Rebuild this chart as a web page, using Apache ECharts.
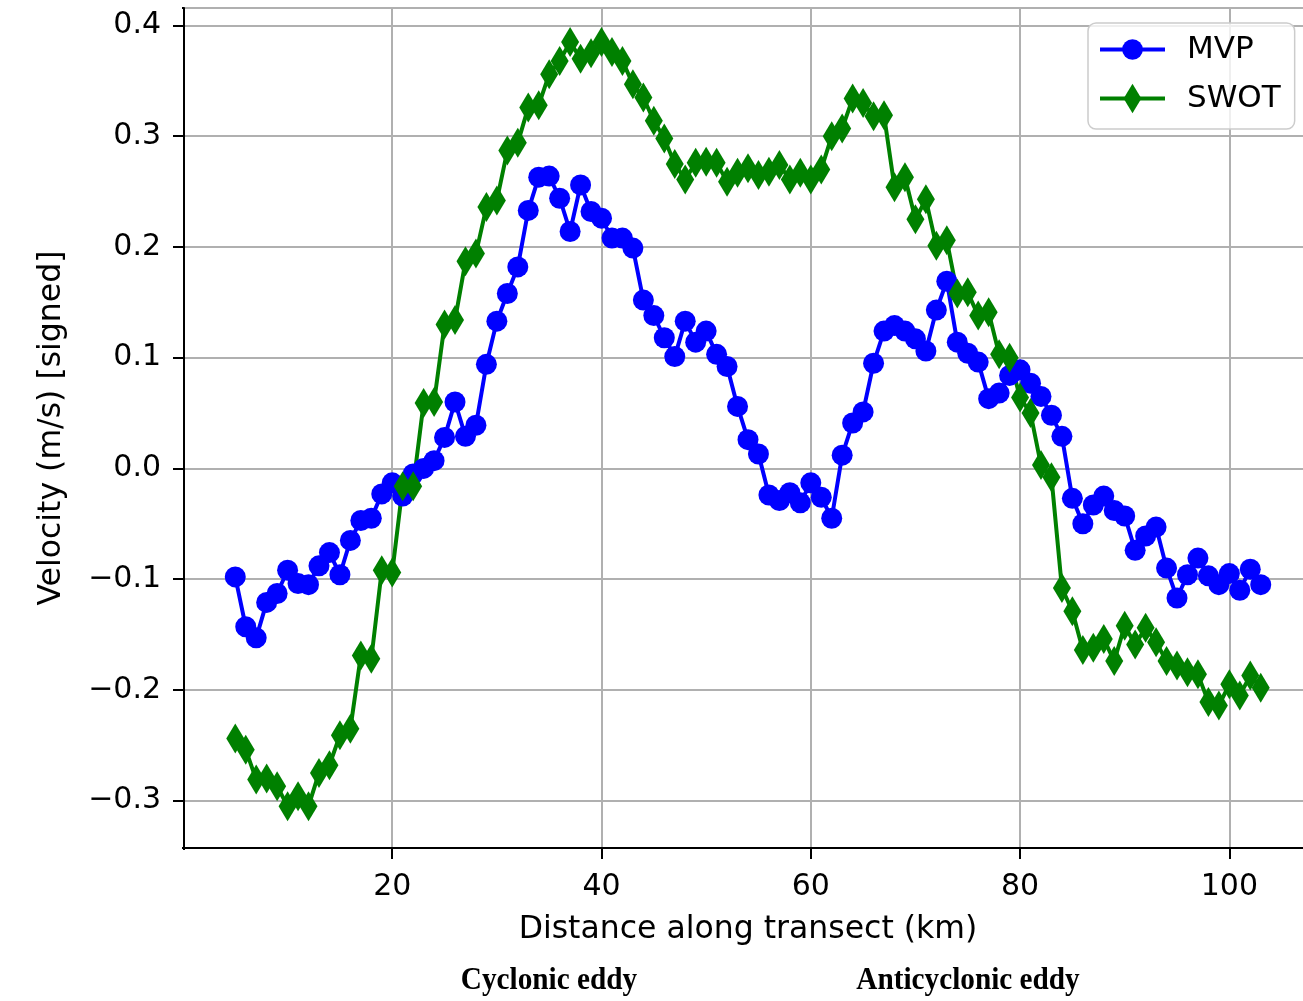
<!DOCTYPE html>
<html>
<head>
<meta charset="utf-8">
<script src="https://cdn.jsdelivr.net/npm/echarts@6/dist/echarts.min.js"></script>
<style>
html,body{margin:0;padding:0;background:#ffffff;}
#chart{width:1303px;height:1001px;}
</style>
</head>
<body>
<div id="chart"></div>
<script>
// ---- data ----
const distanceKm = [5,6,7,8,9,10,11,12,13,14,15,16,17,18,19,20,21,22,23,24,25,26,27,28,29,30,
  31,32,33,34,35,36,37,38,39,40,41,42,43,44,45,46,47,48,49,50,51,52,53,54,55,56,57,58,59,60,
  61,62,63,64,65,66,67,68,69,70,71,72,73,74,75,76,77,78,79,80,81,82,83,84,85,86,87,88,89,90,
  91,92,93,94,95,96,97,98,99,100,101,102,103];

const mvpVelocity = [-0.098,-0.143,-0.153,-0.121,-0.113,-0.092,-0.104,-0.105,-0.088,-0.076,
  -0.096,-0.065,-0.047,-0.045,-0.023,-0.013,-0.025,-0.005,0.000,0.007,
  0.028,0.060,0.029,0.039,0.094,0.133,0.158,0.182,0.233,0.263,
  0.264,0.244,0.214,0.256,0.232,0.226,0.208,0.208,0.199,0.152,
  0.138,0.118,0.101,0.133,0.114,0.124,0.103,0.092,0.056,0.026,
  0.013,-0.024,-0.029,-0.022,-0.031,-0.013,-0.026,-0.045,0.012,0.041,
  0.051,0.095,0.124,0.129,0.124,0.117,0.106,0.143,0.169,0.114,
  0.104,0.096,0.063,0.068,0.084,0.089,0.077,0.065,0.048,0.029,
  -0.027,-0.050,-0.033,-0.025,-0.038,-0.043,-0.074,-0.061,-0.053,-0.090,
  -0.117,-0.096,-0.081,-0.097,-0.105,-0.095,-0.110,-0.091,-0.105];

const swotVelocity = [-0.244,-0.254,-0.281,-0.280,-0.287,-0.305,-0.296,-0.305,-0.275,-0.268,
  -0.241,-0.235,-0.169,-0.172,-0.092,-0.094,-0.016,-0.016,0.059,0.060,
  0.130,0.134,0.187,0.194,0.236,0.242,0.287,0.294,0.326,0.328,
  0.356,0.368,0.385,0.370,0.375,0.385,0.376,0.368,0.347,0.335,
  0.314,0.298,0.275,0.261,0.276,0.277,0.276,0.259,0.267,0.271,
  0.265,0.268,0.274,0.261,0.267,0.261,0.270,0.300,0.307,0.334,
  0.330,0.318,0.319,0.254,0.263,0.225,0.243,0.201,0.206,0.158,
  0.159,0.138,0.141,0.103,0.100,0.064,0.050,0.003,-0.008,-0.108,
  -0.129,-0.164,-0.162,-0.154,-0.174,-0.142,-0.159,-0.144,-0.157,-0.174,
  -0.178,-0.184,-0.186,-0.211,-0.214,-0.195,-0.205,-0.187,-0.198];

const xTicks = [20, 40, 60, 80, 100];
const yTicks = [-0.3, -0.2, -0.1, 0.0, 0.1, 0.2, 0.3, 0.4];
const seriesNames = ['MVP', 'SWOT'];
const xAxisTitle = 'Distance along transect (km)';
const yAxisTitle = 'Velocity (m/s) [signed]';
const eddyLabels = ['Cyclonic eddy', 'Anticyclonic eddy'];

// ---- styling ----
const FONT = 'DejaVu Sans';
const BLUE = '#0000ff';
const GREEN = '#008000';
// circle drawn inside a padded square box so that legend and plot sizes match matplotlib
const circleSymbol = 'path://M0 0M1 1M0.85 0.5A0.35 0.35 0 1 1 0.15 0.5A0.35 0.35 0 1 1 0.85 0.5Z';
const thinDiamondSymbol = 'path://M0 0M1 1M0.5 0L0.8 0.5L0.5 1L0.2 0.5Z';

const pairs = (xs, ys) => xs.map((x, i) => [x, ys[i]]);

const fmtY = v => {
  const r = Math.round(v * 10) / 10;
  if (Math.abs(r) < 1e-9) return '0.0';
  return (r < 0 ? '\u2212' : '') + Math.abs(r).toFixed(1);
};

const chart = echarts.init(document.getElementById('chart'), null, {renderer: 'canvas'});

const GRID = {left: 184, right: -9, top: 8, bottom: 153};

const tickStyle = {show: true, inside: false, length: 11, lineStyle: {color: '#000', width: 2}};
const axisCommon = {
  type: 'value',
  axisLine: {show: true, onZero: false, lineStyle: {color: '#000', width: 2}},
  splitLine: {show: true, lineStyle: {color: '#b0b0b0', width: 2}},
  nameTextStyle: {fontFamily: FONT, fontSize: 31.5, color: '#000'}
};

// white patches hiding the tick stubs ECharts adds at the axis extent ends (corners)
const cornerCover = (x, y, w, h) => ({type: 'rect', z: 100, silent: true,
  shape: {x: x, y: y, width: w, height: h}, style: {fill: '#ffffff'}});

chart.setOption({
  animation: false,
  backgroundColor: '#ffffff',
  textStyle: {fontFamily: FONT},
  grid: Object.assign({}, GRID, {
    containLabel: false,
    outerBoundsMode: 'none',
    show: true, borderColor: '#000', borderWidth: 2, backgroundColor: 'transparent'
  }),
  xAxis: Object.assign({}, axisCommon, {
    min: 0.1, max: 107.9,
    minInterval: 20, maxInterval: 20,
    axisTick: tickStyle,
    axisLabel: {customValues: xTicks, margin: 24, fontFamily: FONT, fontSize: 30, color: '#000',
      formatter: v => String(Math.round(v))},
    name: xAxisTitle, nameLocation: 'middle', nameGap: 66
  }),
  yAxis: Object.assign({}, axisCommon, {
    min: -0.3428, max: 0.4158,
    minInterval: 0.1, maxInterval: 0.1,
    axisTick: tickStyle,
    axisLabel: {customValues: yTicks, margin: 23, fontFamily: FONT, fontSize: 30, color: '#000',
      formatter: fmtY, showMinLabel: true, showMaxLabel: true},
    name: yAxisTitle, nameLocation: 'middle', nameGap: 116
  }),
  legend: {
    show: true,
    orient: 'vertical',
    left: 1088, top: 23,
    padding: [11, 14, 15, 10],
    itemWidth: 65, itemHeight: 37, itemGap: 18,
    backgroundColor: 'rgba(255,255,255,0.8)',
    borderColor: '#cccccc', borderWidth: 1.5, borderRadius: 8,
    lineStyle: {width: 4},
    textStyle: {fontFamily: FONT, fontSize: 31, color: '#000', padding: [0, 0, 0, 17]},
    data: seriesNames
  },
  series: [
    {
      name: seriesNames[0], type: 'line',
      data: pairs(distanceKm, mvpVelocity),
      symbol: circleSymbol, symbolSize: 30, showSymbol: true, showAllSymbol: true,
      lineStyle: {color: BLUE, width: 4},
      itemStyle: {color: BLUE, borderWidth: 0},
      emphasis: {disabled: true}
    },
    {
      name: seriesNames[1], type: 'line',
      data: pairs(distanceKm, swotVelocity),
      symbol: thinDiamondSymbol, symbolSize: 30, showSymbol: true, showAllSymbol: true,
      lineStyle: {color: GREEN, width: 4},
      itemStyle: {color: GREEN, borderWidth: 0},
      emphasis: {disabled: true}
    }
  ],
  graphic: [
    cornerCover(GRID.left - 16, GRID.top - 5, 14, 10),
    cornerCover(GRID.left - 16, 1001 - GRID.bottom - 5, 14, 10),
    cornerCover(GRID.left - 5, 1001 - GRID.bottom + 2, 10, 14),
    {type: 'text', x: 549, y: 981, scaleX: 0.9, silent: true,
      style: {text: eddyLabels[0], fontFamily: 'Liberation Serif', fontWeight: 'bold', fontSize: 32.5,
        fill: '#000', align: 'center', verticalAlign: 'middle', textAlign: 'center', textVerticalAlign: 'middle'}},
    {type: 'text', x: 968, y: 981, scaleX: 0.9, silent: true,
      style: {text: eddyLabels[1], fontFamily: 'Liberation Serif', fontWeight: 'bold', fontSize: 32.5,
        fill: '#000', align: 'center', verticalAlign: 'middle', textAlign: 'center', textVerticalAlign: 'middle'}}
  ]
});
</script>
</body>
</html>
